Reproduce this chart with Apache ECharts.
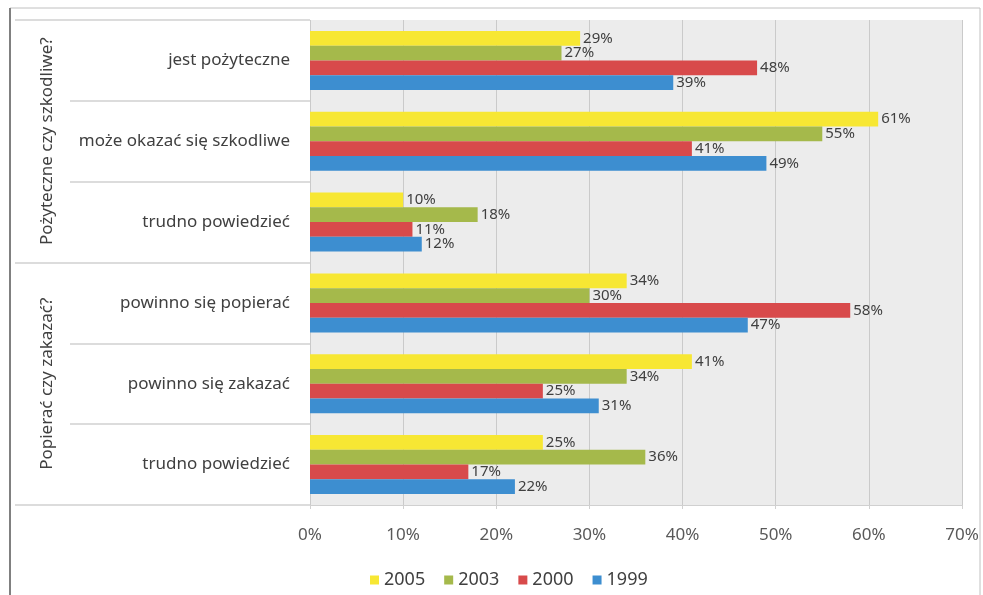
<!DOCTYPE html>
<html>
<head>
<meta charset="utf-8">
<script src="https://cdn.jsdelivr.net/npm/echarts@6/dist/echarts.min.js"></script>
<style>
  html, body { margin: 0; padding: 0; background: #fff; }
  #chart { width: 983px; height: 595px; }
</style>
</head>
<body>
<div id="chart"></div>
<script>
const categories = [
  'jest pożyteczne',
  'może okazać się szkodliwe',
  'trudno powiedzieć',
  'powinno się popierać',
  'powinno się zakazać',
  'trudno powiedzieć'
];
const groups = ['Pożyteczne czy szkodliwe?', 'Popierać czy zakazać?'];
const years = ['2005', '2003', '2000', '1999'];
const v2005 = [29, 61, 10, 34, 41, 25];
const v2003 = [27, 55, 18, 30, 34, 36];
const v2000 = [48, 41, 11, 58, 25, 17];
const v1999 = [39, 49, 12, 47, 31, 22];
const xTicks = [0, 10, 20, 30, 40, 50, 60, 70];

const colors = ['#f7e733', '#a5b94b', '#d84a4b', '#3d8ed0'];
const font = '"Noto Sans", sans-serif';

const chart = echarts.init(document.getElementById('chart'));

const makeSeries = (name, data) => ({
  name: name,
  type: 'bar',
  data: data,
  barGap: '0%',
  barCategoryGap: '27%',
  label: {
    show: true,
    position: 'right',
    distance: 3,
    formatter: '{c}%',
    color: '#404040',
    fontSize: 15,
    fontFamily: font
  }
});

chart.setOption({
  animation: false,
  color: colors,
  grid: {
    left: 310, right: 21, top: 20, bottom: 90,
    show: true, backgroundColor: '#ececec', borderWidth: 0
  },
  legend: {
    data: years,
    left: 365, top: 566,
    itemWidth: 9, itemHeight: 9, itemGap: 19,
    icon: 'rect',
    textStyle: { color: '#404040', fontSize: 18, fontFamily: font }
  },
  xAxis: {
    type: 'value',
    min: xTicks[0], max: xTicks[xTicks.length - 1], interval: 10,
    axisLine: { show: true, lineStyle: { color: '#d0d0d0' } },
    axisTick: { show: true, length: 4, lineStyle: { color: '#d0d0d0' } },
    splitLine: { show: true, lineStyle: { color: '#cacaca' } },
    axisLabel: {
      margin: 22, color: '#595959', fontSize: 17, fontFamily: font,
      formatter: '{value}%'
    }
  },
  yAxis: [{
    type: 'category',
    inverse: true,
    data: categories.map((c, i) => i),
    axisLine: { show: false },
    axisTick: { show: true, interval: 0, length: 240, lineStyle: { color: '#dcdcdc', width: 2 } },
    axisLabel: {
      interval: 0, margin: 20, color: '#404040', fontSize: 17, fontFamily: font,
      formatter: (v, i) => categories[i]
    }
  }, {
    type: 'category',
    inverse: true,
    position: 'left',
    data: groups,
    axisLine: { show: false },
    axisTick: { show: true, interval: 0, length: 295, lineStyle: { color: '#dcdcdc', width: 2 } },
    axisLabel: {
      interval: 0, margin: 254, rotate: 90, color: '#404040', fontSize: 17, fontFamily: font
    }
  }],
  graphic: [{
    type: 'rect',
    shape: { x: 10, y: 8, width: 970, height: 600 },
    style: { fill: null, stroke: '#c0c0c0', lineWidth: 1 },
    silent: true
  }, {
    type: 'line',
    shape: { x1: 10, y1: 8, x2: 10, y2: 595 },
    style: { stroke: '#808080', lineWidth: 2 },
    silent: true
  }],
  series: [
    makeSeries(years[0], v2005),
    makeSeries(years[1], v2003),
    makeSeries(years[2], v2000),
    makeSeries(years[3], v1999)
  ]
});
</script>
</body>
</html>
